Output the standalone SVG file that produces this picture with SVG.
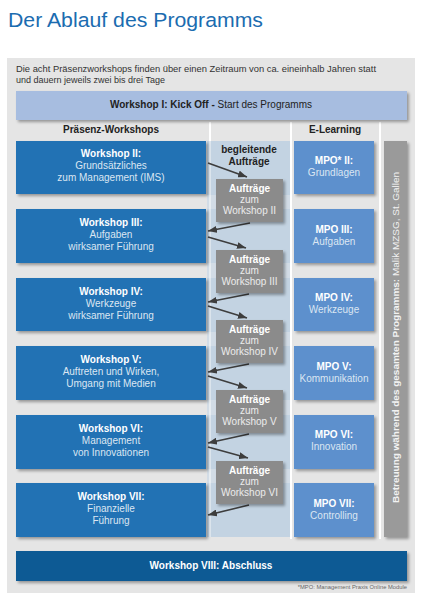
<svg xmlns="http://www.w3.org/2000/svg" width="423" height="600" viewBox="0 0 423 600">
<defs>
<style>
text{font-family:"Liberation Sans",Arial,sans-serif}
.ws{fill:#2372b4}
.mpo{fill:#5d90cd}
.auf{fill:#8b8b8b}
.b{font-weight:bold}
.t{font-size:10px;text-anchor:middle}
.wh{fill:#ffffff}
.lt{fill:#dbe6f2}
.lg{fill:#ececec}
.hd{font-size:10px;font-weight:bold;fill:#222;text-anchor:middle}
.arr{stroke:#3d3d3d;stroke-width:1.6;fill:none;marker-end:url(#ah)}
.vl{stroke:#ffffff;stroke-width:2}
</style>
<filter id="sh" x="-10%" y="-10%" width="130%" height="140%">
<feDropShadow dx="2" dy="2" stdDeviation="1.5" flood-color="#000" flood-opacity="0.35"/>
</filter>
<marker id="ah" markerUnits="userSpaceOnUse" markerWidth="9" markerHeight="7" refX="9" refY="3.5" orient="auto">
<path d="M0,0 L9,3.5 L0,7 z" fill="#3d3d3d"/>
</marker>
</defs>
<rect width="423" height="600" fill="#ffffff"/>
<text x="8" y="27" font-size="20.5" fill="#1b6cb0" textLength="255" lengthAdjust="spacingAndGlyphs">Der Ablauf des Programms</text>
<rect x="7" y="58" width="408" height="535" fill="#e5e5e5"/>
<text x="16" y="72" font-size="9" fill="#333" textLength="360" lengthAdjust="spacingAndGlyphs">Die acht Präsenzworkshops finden über einen Zeitraum von ca. eineinhalb Jahren statt</text>
<text x="16" y="83" font-size="9" fill="#333">und dauern jeweils zwei bis drei Tage</text>

<g id="background-columns">
<line class="vl" x1="210" y1="122" x2="210" y2="141"/>
<line class="vl" x1="291" y1="122" x2="291" y2="539"/>
<line class="vl" x1="380" y1="122" x2="380" y2="539"/>
<rect x="207" y="141" width="83" height="396" fill="#c3d3e2"/>
<g fill="#d2dce6">
<rect x="207" y="195" width="83" height="14"/>
<rect x="207" y="263" width="83" height="15"/>
<rect x="207" y="332" width="83" height="14"/>
<rect x="207" y="400" width="83" height="15"/>
<rect x="207" y="469" width="83" height="14"/>
</g>
<line x1="210" y1="141" x2="210" y2="537" stroke="#ffffff" stroke-opacity="0.45" stroke-width="2"/>
</g>

<g id="kickoff">
<rect x="16" y="91" width="391" height="29" fill="#a7bde0" filter="url(#sh)"/>
<text x="211" y="108" class="t" fill="#222"><tspan class="b">Workshop I: Kick Off -</tspan> Start des Programms</text>
</g>

<g id="headers">
<text x="111" y="133" class="hd">Präsenz-Workshops</text>
<text x="335" y="133" class="hd">E-Learning</text>
<text x="249" y="153" class="hd">begleitende</text>
<text x="249" y="165" class="hd">Aufträge</text>
</g>

<g id="ws2">
<rect class="ws" x="16" y="141" width="190" height="53" filter="url(#sh)"/>
<text class="t" x="111" y="157"><tspan class="b wh">Workshop II:</tspan><tspan class="lt" x="111" dy="12">Grundsätzliches</tspan><tspan class="lt" x="111" dy="12">zum Management (IMS)</tspan></text>
</g>
<g id="ws3">
<rect class="ws" x="16" y="209" width="190" height="54" filter="url(#sh)"/>
<text class="t" x="111" y="226"><tspan class="b wh">Workshop III:</tspan><tspan class="lt" x="111" dy="12">Aufgaben</tspan><tspan class="lt" x="111" dy="12">wirksamer Führung</tspan></text>
</g>
<g id="ws4">
<rect class="ws" x="16" y="278" width="190" height="53" filter="url(#sh)"/>
<text class="t" x="111" y="295"><tspan class="b wh">Workshop IV:</tspan><tspan class="lt" x="111" dy="12">Werkzeuge</tspan><tspan class="lt" x="111" dy="12">wirksamer Führung</tspan></text>
</g>
<g id="ws5">
<rect class="ws" x="16" y="346" width="190" height="54" filter="url(#sh)"/>
<text class="t" x="111" y="363"><tspan class="b wh">Workshop V:</tspan><tspan class="lt" x="111" dy="12">Auftreten und Wirken,</tspan><tspan class="lt" x="111" dy="12">Umgang mit Medien</tspan></text>
</g>
<g id="ws6">
<rect class="ws" x="16" y="415" width="190" height="54" filter="url(#sh)"/>
<text class="t" x="111" y="432"><tspan class="b wh">Workshop VI:</tspan><tspan class="lt" x="111" dy="12">Management</tspan><tspan class="lt" x="111" dy="12">von Innovationen</tspan></text>
</g>
<g id="ws7">
<rect class="ws" x="16" y="483" width="190" height="54" filter="url(#sh)"/>
<text class="t" x="111" y="500"><tspan class="b wh">Workshop VII:</tspan><tspan class="lt" x="111" dy="12">Finanzielle</tspan><tspan class="lt" x="111" dy="12">Führung</tspan></text>
</g>

<g id="mpo2">
<rect class="mpo" x="294" y="141" width="80" height="53" filter="url(#sh)"/>
<text class="t" x="334" y="164"><tspan class="b wh">MPO* II:</tspan><tspan class="lt" x="334" dy="11.5">Grundlagen</tspan></text>
</g>
<g id="mpo3">
<rect class="mpo" x="294" y="209" width="80" height="54" filter="url(#sh)"/>
<text class="t" x="334" y="233"><tspan class="b wh">MPO III:</tspan><tspan class="lt" x="334" dy="11.5">Aufgaben</tspan></text>
</g>
<g id="mpo4">
<rect class="mpo" x="294" y="278" width="80" height="53" filter="url(#sh)"/>
<text class="t" x="334" y="301"><tspan class="b wh">MPO IV:</tspan><tspan class="lt" x="334" dy="11.5">Werkzeuge</tspan></text>
</g>
<g id="mpo5">
<rect class="mpo" x="294" y="346" width="80" height="54" filter="url(#sh)"/>
<text class="t" x="334" y="370"><tspan class="b wh">MPO V:</tspan><tspan class="lt" x="334" dy="11.5">Kommunikation</tspan></text>
</g>
<g id="mpo6">
<rect class="mpo" x="294" y="415" width="80" height="54" filter="url(#sh)"/>
<text class="t" x="334" y="438"><tspan class="b wh">MPO VI:</tspan><tspan class="lt" x="334" dy="11.5">Innovation</tspan></text>
</g>
<g id="mpo7">
<rect class="mpo" x="294" y="483" width="80" height="54" filter="url(#sh)"/>
<text class="t" x="334" y="507"><tspan class="b wh">MPO VII:</tspan><tspan class="lt" x="334" dy="11.5">Controlling</tspan></text>
</g>

<g id="connectors">
<line class="arr" x1="208" y1="163" x2="247" y2="177"/>
<line class="arr" x1="250" y1="223" x2="208" y2="231"/>
<line class="arr" x1="208" y1="237" x2="246" y2="248"/>
<line class="arr" x1="249" y1="294" x2="208" y2="302"/>
<line class="arr" x1="208" y1="306" x2="247" y2="318"/>
<line class="arr" x1="249" y1="364" x2="208" y2="372"/>
<line class="arr" x1="208" y1="376" x2="247" y2="388"/>
<line class="arr" x1="249" y1="434" x2="208" y2="443"/>
<line class="arr" x1="208" y1="447" x2="248" y2="458"/>
<line class="arr" x1="249" y1="505" x2="208" y2="515"/>
</g>

<g id="auf2">
<rect class="auf" x="216" y="179" width="67" height="43" filter="url(#sh)"/>
<text class="t" x="249.5" y="192"><tspan class="b wh">Aufträge</tspan><tspan class="lg" x="249.5" dy="11">zum</tspan><tspan class="lg" x="249.5" dy="11">Workshop II</tspan></text>
</g>
<g id="auf3">
<rect class="auf" x="216" y="250" width="67" height="43" filter="url(#sh)"/>
<text class="t" x="249.5" y="263"><tspan class="b wh">Aufträge</tspan><tspan class="lg" x="249.5" dy="11">zum</tspan><tspan class="lg" x="249.5" dy="11">Workshop III</tspan></text>
</g>
<g id="auf4">
<rect class="auf" x="216" y="320" width="67" height="43" filter="url(#sh)"/>
<text class="t" x="249.5" y="333"><tspan class="b wh">Aufträge</tspan><tspan class="lg" x="249.5" dy="11">zum</tspan><tspan class="lg" x="249.5" dy="11">Workshop IV</tspan></text>
</g>
<g id="auf5">
<rect class="auf" x="216" y="390" width="67" height="43" filter="url(#sh)"/>
<text class="t" x="249.5" y="403"><tspan class="b wh">Aufträge</tspan><tspan class="lg" x="249.5" dy="11">zum</tspan><tspan class="lg" x="249.5" dy="11">Workshop V</tspan></text>
</g>
<g id="auf6">
<rect class="auf" x="216" y="461" width="67" height="43" filter="url(#sh)"/>
<text class="t" x="249.5" y="474"><tspan class="b wh">Aufträge</tspan><tspan class="lg" x="249.5" dy="11">zum</tspan><tspan class="lg" x="249.5" dy="11">Workshop VI</tspan></text>
</g>

<g id="betreuung">
<rect x="384" y="141" width="23" height="396" fill="#9a9a9a" filter="url(#sh)"/>
<text transform="translate(399,337.5) rotate(-90)" font-size="9" text-anchor="middle" fill="#f2f2f2" textLength="331" lengthAdjust="spacingAndGlyphs"><tspan font-weight="bold">Betreuung während des gesamten Programms:</tspan> Malik MZSG, St. Gallen</text>
</g>

<g id="ws8">
<rect x="16" y="551" width="391" height="30" fill="#0e5a94" filter="url(#sh)"/>
<text class="t b wh" x="211" y="569">Workshop VIII: Abschluss</text>
</g>

<text x="407" y="589" font-size="5.8" fill="#666" text-anchor="end">*MPO: Management Praxis Online Module</text>
</svg>
